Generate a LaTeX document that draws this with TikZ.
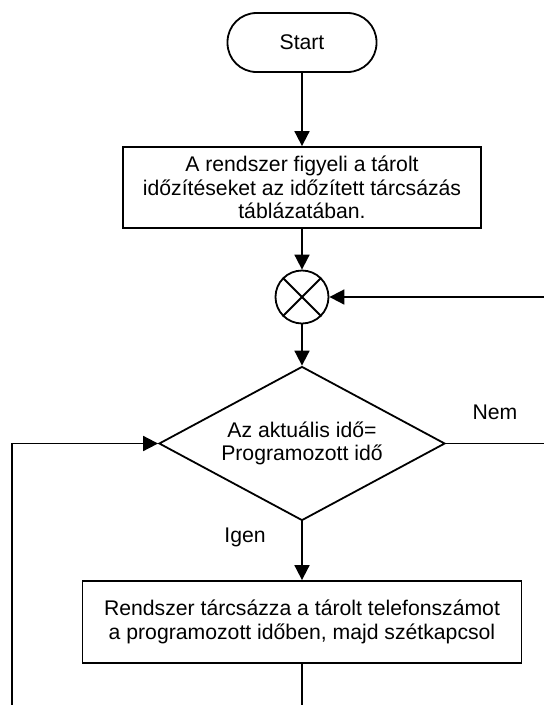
\documentclass[tikz,border=0pt]{standalone}
\usepackage{fontspec}
\setmainfont{Liberation Sans}
\usetikzlibrary{arrows.meta, positioning, shapes.geometric}

\begin{document}
\begin{tikzpicture}[x=1pt, y=-1pt, line width=1.8pt,
    font=\fontsize{21.2}{23.5}\selectfont,
    arr/.style={-{Triangle[length=15pt, width=15pt]}},
    procbox/.style={draw, rectangle, align=center, inner sep=0pt},
    ]
        \useasboundingbox (0,0) rectangle (544,705);

        % Nodes
        \node[draw, rectangle, rounded corners=29pt, minimum width=149pt, minimum height=59pt] (start) at (302,42.5) {Start};
        \node[procbox, minimum width=358pt, minimum height=81pt] (watch) at (302,187.5)
            {A rendszer figyeli a tárolt\\időzítéseket az időzített tárcsázás\\táblázatában.};
        \node[draw, circle, minimum size=53pt, inner sep=0pt] (merge) at (302,297) {};
        \draw (merge.north east) -- (merge.south west);
        \draw (merge.north west) -- (merge.south east);
        \node[draw, diamond, aspect=1.86, minimum width=286pt, minimum height=154pt, inner sep=0pt, align=center] (check) at (302,443.5)
            {Az aktuális idő=\\Programozott idő};
        \node[procbox, minimum width=439pt, minimum height=82pt] (dial) at (302,622)
            {Rendszer tárcsázza a tárolt telefonszámot\\a programozott időben, majd szétkapcsol};

        % Labels
        \node[anchor=base] (nolabel) at (495,419) {Nem};
        \node[anchor=base] (yeslabel) at (245,542) {Igen};

        % Free ends
        \coordinate (loopin) at (544,297);
        \coordinate (loopout) at (544,443.5);
        \coordinate (backin) at (12,705);
        \coordinate (dialout) at (302,705);

        % Connectors
        \draw[arr] (start) -- (watch);
        \draw[arr] (watch) -- (merge);
        \draw[arr] (merge) -- (check);
        \draw[arr] (loopin) -- (merge.east);
        \draw (check.east) -- (loopout);
        \draw[arr] (backin) |- (check.west);
        \draw[arr] (check.south) -- (dial.north);
        \draw (dial.south) -- (dialout);

\end{tikzpicture}
\end{document}
